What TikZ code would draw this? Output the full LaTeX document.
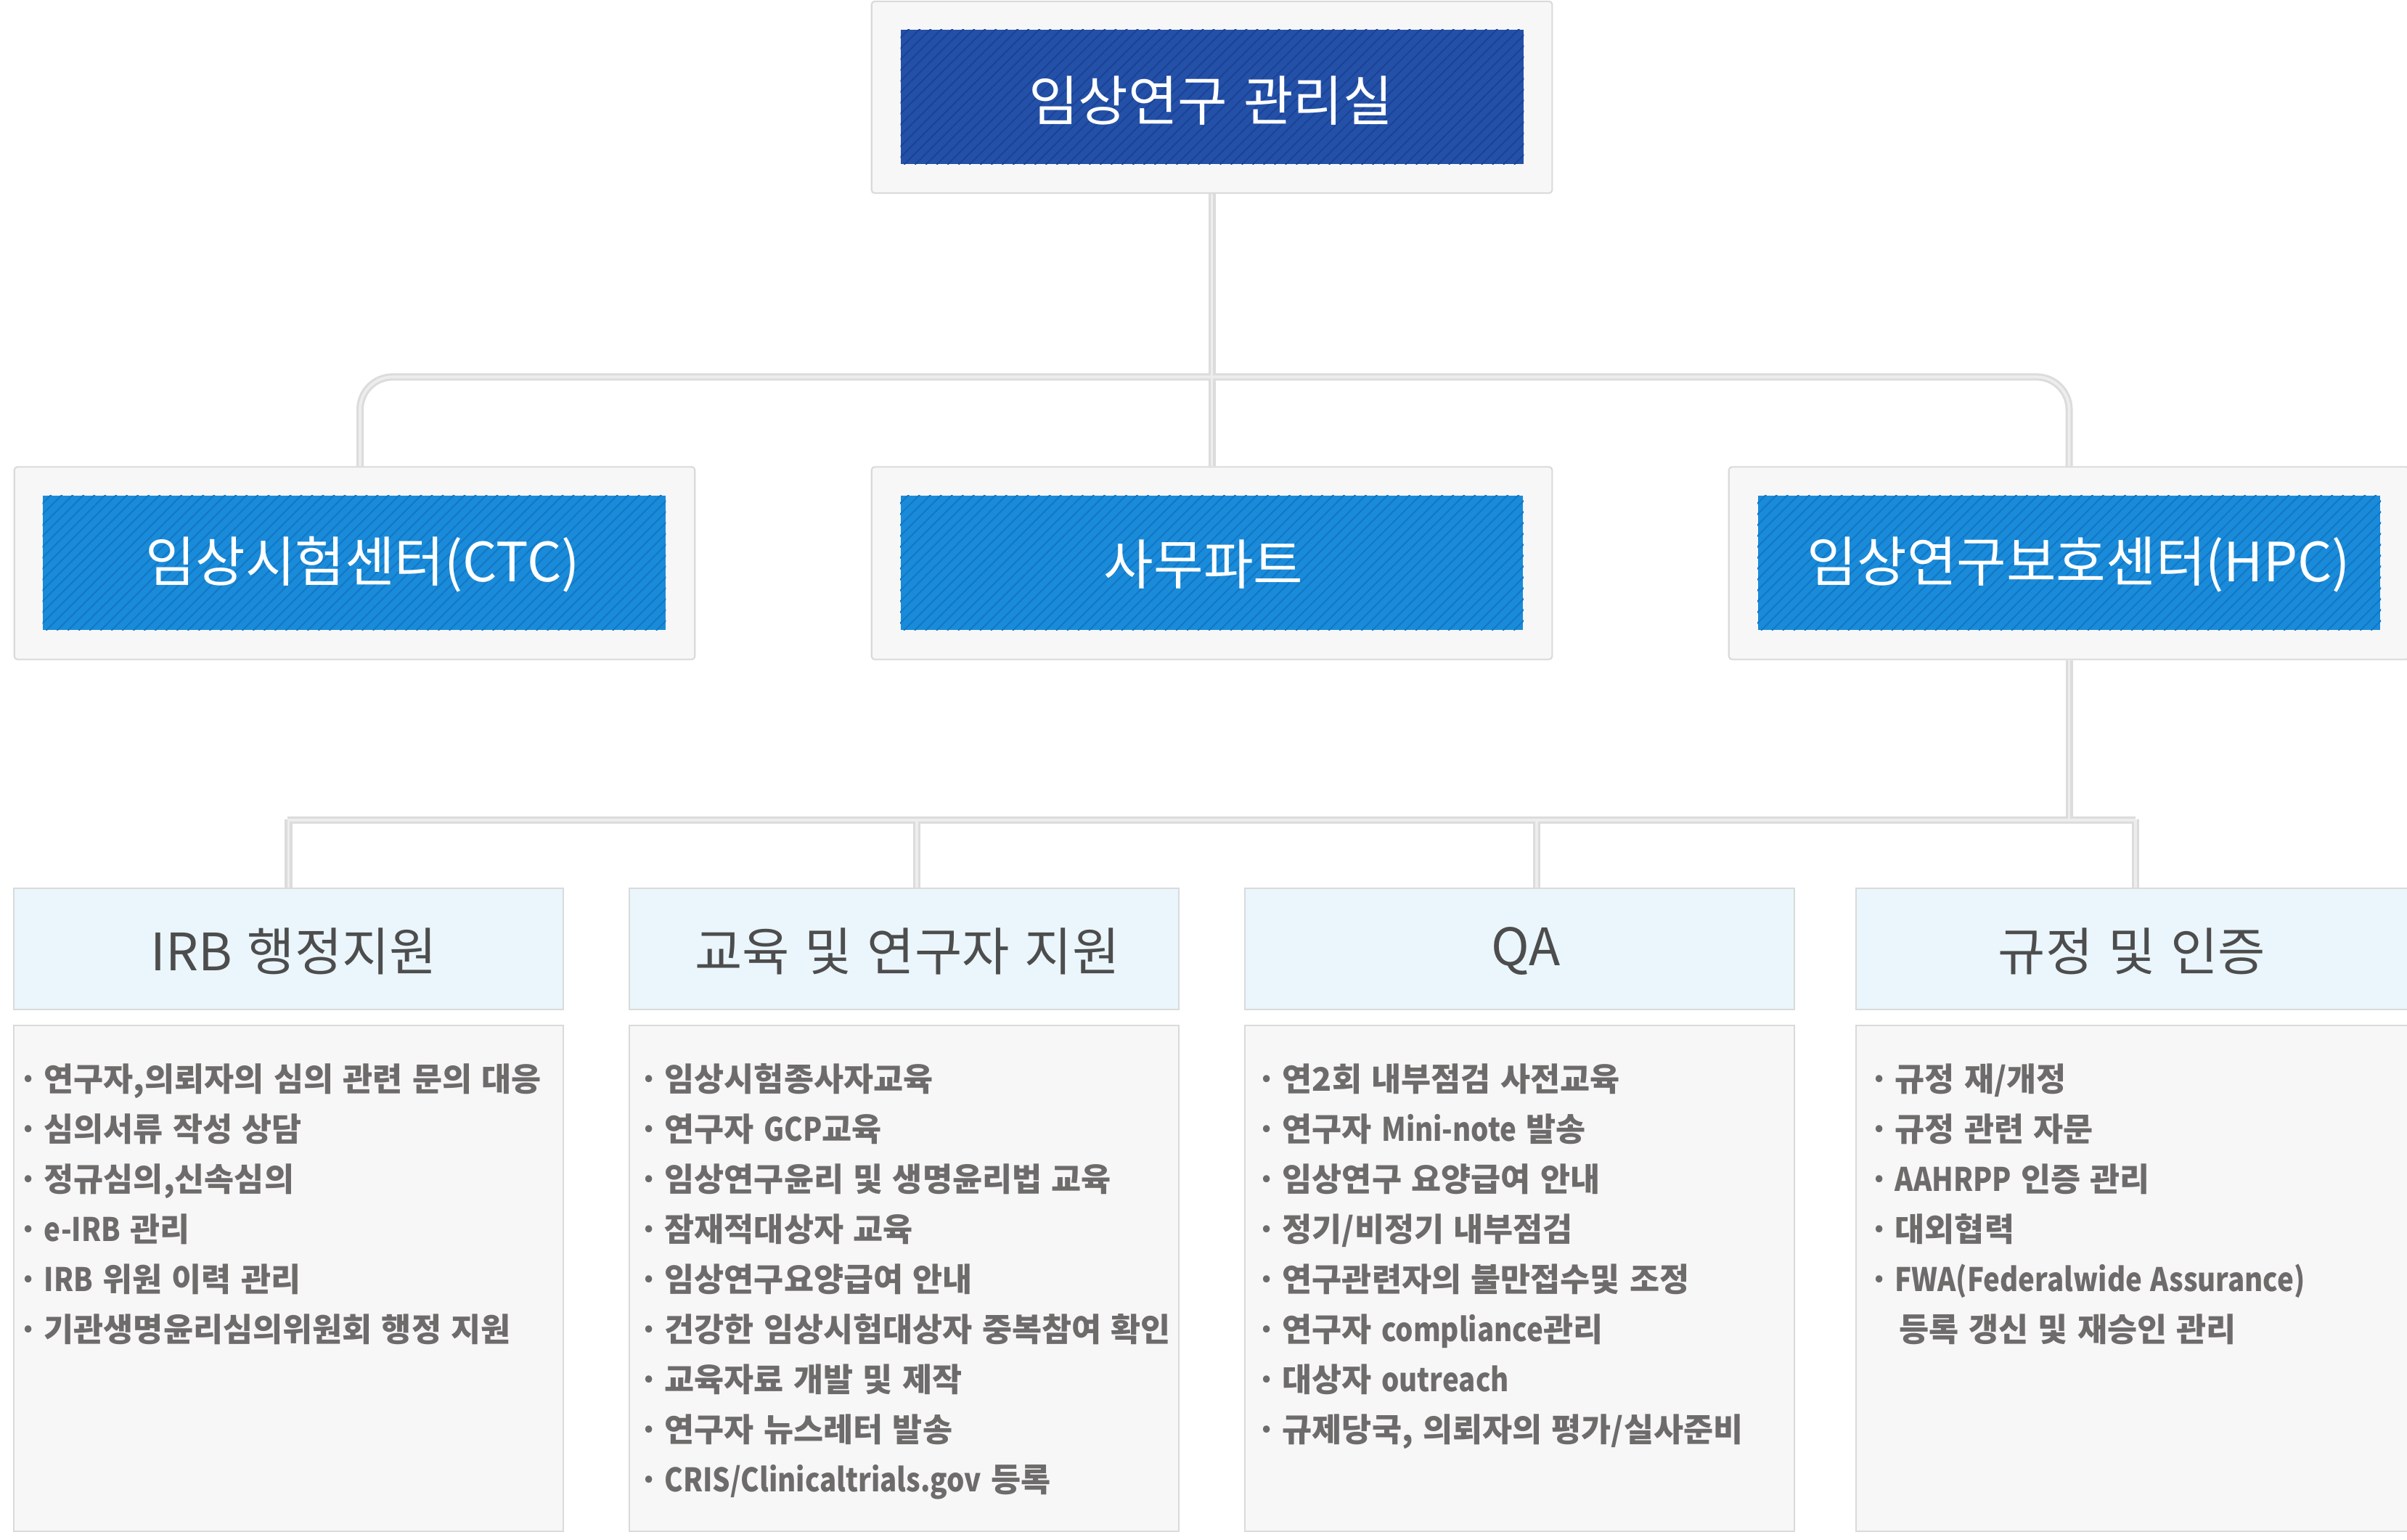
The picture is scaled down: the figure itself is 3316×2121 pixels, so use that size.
\documentclass[tikz,border=0pt]{standalone}
\usepackage{fontspec}
\setmainfont{Noto Sans CJK KR}[WordSpace=1.3]
\newfontfamily\latfont{Noto Sans CJK KR}[FakeStretch=0.86, WordSpace=1.3]
\definecolor{navy}{HTML}{2451A8}
\definecolor{navyline}{HTML}{1C4297}
\definecolor{sky}{HTML}{1A8BD9}
\definecolor{skyline}{HTML}{1277C6}
\definecolor{boxfill}{HTML}{F7F7F7}
\definecolor{boxline}{HTML}{DADADA}
\definecolor{headfill}{HTML}{EAF6FC}
\definecolor{conndark}{HTML}{DCDCDC}
\definecolor{connlight}{HTML}{EDEDED}
\definecolor{listgray}{HTML}{6E6B6B}
\definecolor{headgray}{HTML}{4D4D4D}
\newcommand{\bul}{\makebox[0.35cm][l]{·}}
\newcommand{\nobul}{\makebox[0.35cm][l]{}}
\newcommand{\lat}{\latfont}
\newcommand{\hatchbox}[2]{%
  \begin{scope}
    \clip (#1.south west) rectangle (#1.north east);
    \foreach \k in {0,...,76}
      \draw[#2, line width=0.55pt] ([xshift=-1.9cm+\k*0.15cm]#1.south west) -- ++(1.9cm,1.9cm);
  \end{scope}}
\newcommand{\connpaths}[1]{%
  \draw[#1] (top.south) -- (mid.north);
  \draw[#1, rounded corners=0.45cm] ([xshift=0.075cm]ctc.north) -- ++(0,-123) -| (hpc.north);
  \draw[#1] (hpc.south) -- (hpc.south |- bus);
  \draw[#1] (busL) -- (busR);
  \draw[#1] (irb.north) -- ++(0,-94);
  \draw[#1] ([xshift=0.175cm]edu.north) -- ++(0,-94);
  \draw[#1] ([xshift=0.235cm]qa.north) -- ++(0,-94);
  \draw[#1] ([xshift=0.025cm]reg.north) -- ++(0,-94);
}
\tikzset{
  outerbox/.style={draw=boxline, fill=boxfill, line width=0.6pt, rounded corners=1.2pt, inner sep=0pt, minimum width=9.37cm, minimum height=2.65cm},
  innerbox/.style={inner sep=0pt, minimum width=8.57cm, minimum height=1.85cm},
  headbox/.style={draw=boxline, fill=headfill, line width=0.6pt, inner sep=0pt, minimum width=7.57cm, minimum height=1.67cm},
  listbox/.style={draw=boxline, fill=boxfill, line width=0.6pt, inner sep=0pt, minimum width=7.57cm, minimum height=6.97cm},
  titletext/.style={text=white, font=\fontsize{21.2}{25}\selectfont, inner sep=0pt},
  headtext/.style={text=headgray, font=\fontsize{20.2}{24}\selectfont, inner sep=0pt},
  itemtext/.style={text=listgray, font=\bfseries\fontsize{12.7}{15}\selectfont, anchor=base west, inner sep=0pt},
  connout/.style={conndark, line width=2.85pt},
  connin/.style={connlight, line width=1.1pt},
}
\begin{document}
\begin{tikzpicture}[x=0.01cm, y=-0.01cm]
\useasboundingbox (0,0) rectangle (3316,2121);
\clip (0,0) rectangle (3316,2121);
\fill[white] (0,0) rectangle (3316,2121);

% coordinates for the lower bus
\coordinate (bus) at (0,1130);
\coordinate (busL) at (396,1130);
\coordinate (busR) at (2942,1130);

% box frames used as anchors for the connectors
\path
  node[outerbox, draw=none, fill=none, minimum height=2.64cm] (top) at (1669.5,134) {}
  node[outerbox, draw=none, fill=none] (ctc) at (488.5,776) {}
  node[outerbox, draw=none, fill=none] (mid) at (1669.5,776) {}
  node[outerbox, draw=none, fill=none] (hpc) at (2850.5,776) {}
  node[headbox, draw=none, fill=none] (irb) at (397.5,1307.5) {}
  node[headbox, draw=none, fill=none] (edu) at (1245.5,1307.5) {}
  node[headbox, draw=none, fill=none] (qa) at (2093.5,1307.5) {}
  node[headbox, draw=none, fill=none, minimum width=7.65cm] (reg) at (2939.5,1307.5) {};

% connectors
\connpaths{connout}
\connpaths{connin}

% top level
\node[outerbox, minimum height=2.64cm] (topB) at (top) {};
\node[innerbox, fill=navy] (topIn) at (1670,133.5) {};
\hatchbox{topIn}{navyline}
\node[titletext] (topT) at (1668,139) {임상연구 관리실};

% second level
\node[outerbox] (ctcB) at (ctc) {};
\node[outerbox] (midB) at (mid) {};
\node[outerbox] (hpcB) at (hpc) {};
\node[innerbox, fill=sky] (ctcIn) at (488,775.5) {};
\node[innerbox, fill=sky] (midIn) at (1669.5,775.5) {};
\node[innerbox, fill=sky] (hpcIn) at (2850.5,775.5) {};
\hatchbox{ctcIn}{skyline}
\hatchbox{midIn}{skyline}
\hatchbox{hpcIn}{skyline}
\node[titletext] (ctcT) at (500,778) {임상시험센터(CTC)};
\node[titletext] (midT) at (1658,778) {사무파트};
\node[titletext] (hpcT) at (2864,778) {임상연구보호센터(HPC)};

% third level headers
\node[headbox] (irbB) at (irb) {};
\node[headbox] (eduB) at (edu) {};
\node[headbox] (qaB) at (qa) {};
\node[headbox, minimum width=7.65cm] (regB) at (reg) {};
\node[headtext] (irbT) at (405,1311) {IRB 행정지원};
\node[headtext] (eduT) at (1250,1311) {교육 및 연구자 지원};
\node[headtext] (qaT) at (2102,1311) {QA};
\node[headtext] (regT) at (2937,1311) {규정 및 인증};

% list boxes
\node[listbox] (irbL) at (397.5,1761.5) {};
\node[listbox] (eduL) at (1245.5,1761.5) {};
\node[listbox] (qaL) at (2093.5,1761.5) {};
\node[listbox, minimum width=7.65cm] (regL) at (2939.5,1761.5) {};

\foreach [count=\i] \t in {{연구자,의뢰자의 심의 관련 문의 대응},심의서류 작성 상담,{정규심의,신속심의},{{\lat e-IRB} 관리},{{\lat IRB} 위원 이력 관리},기관생명윤리심의위원회 행정 지원}
  \node[itemtext] (a\i) at (25,1434+69*\i) {\bul\t};

\foreach [count=\i] \t in {임상시험종사자교육,{연구자 {\lat GCP}교육},임상연구윤리 및 생명윤리법 교육,잠재적대상자 교육,임상연구요양급여 안내,건강한 임상시험대상자 중복참여 확인,교육자료 개발 및 제작,연구자 뉴스레터 발송,{{\lat CRIS/Clinicaltrials.gov} 등록}}
  \node[itemtext] (b\i) at (880,1434+69*\i) {\bul\t};

\foreach [count=\i] \t in {연2회 내부점검 사전교육,{연구자 {\lat Mini-note} 발송},임상연구 요양급여 안내,정기/비정기 내부점검,연구관련자의 불만접수및 조정,{연구자 {\lat compliance}관리},{대상자 {\lat outreach}},{규제당국, 의뢰자의 평가/실사준비}}
  \node[itemtext] (c\i) at (1731,1434+69*\i) {\bul\t};

\foreach [count=\i] \t in {규정 재/개정,규정 관련 자문,{{\lat AAHRPP} 인증 관리},대외협력,{{\lat FWA(Federalwide Assurance)}}}
  \node[itemtext] (d\i) at (2575,1434+69*\i) {\bul\t};
\node[itemtext] (d6) at (2575,1848) {\nobul\hspace{0.06cm}등록 갱신 및 재승인 관리};
\end{tikzpicture}
\end{document}
